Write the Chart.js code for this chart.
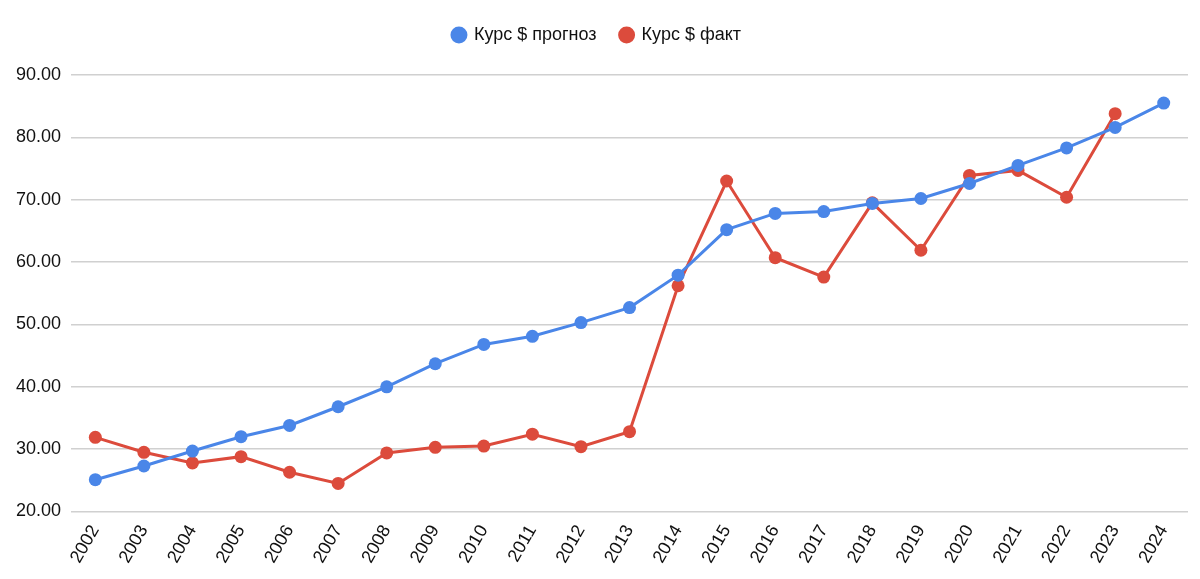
<!DOCTYPE html>
<html>
<head>
<meta charset="utf-8">
<script src="https://cdn.jsdelivr.net/npm/chart.js@4/dist/chart.umd.min.js"></script>
<style>
  html, body { margin: 0; padding: 0; background: #fff; }
  #wrap { width: 1200px; height: 579px; }
</style>
</head>
<body>
<div id="wrap"><canvas id="rateChart"></canvas></div>
<script>
const years = ["2002", "2003", "2004", "2005", "2006", "2007", "2008", "2009", "2010", "2011", "2012",
  "2013", "2014", "2015", "2016", "2017", "2018", "2019", "2020", "2021", "2022", "2023", "2024"];

const forecast = [25.1, 27.3, 29.7, 32.0, 33.8, 36.8, 40.0, 43.7, 46.8, 48.1, 50.3,
  52.7, 57.9, 65.2, 67.8, 68.1, 69.4, 70.2, 72.6, 75.5, 78.3, 81.6, 85.5];

const actual = [31.9, 29.5, 27.8, 28.8, 26.3, 24.5, 29.4, 30.3, 30.5, 32.4, 30.4,
  32.8, 56.2, 73.0, 60.7, 57.6, 69.5, 61.9, 73.9, 74.7, 70.4, 83.8, null];

const yMin = 20;
const yMax = 90;
const yStep = 10;

const blue = "#4a86e8";
const red = "#dc4b3c";
const font = "'Liberation Sans', Arial, sans-serif";

Chart.defaults.font.family = font;
Chart.defaults.color = "#111";

// extra room under the legend, like the original
const legendGap = {
  id: "legendGap",
  beforeInit(chart) {
    const fit = chart.legend.fit;
    chart.legend.fit = function () {
      fit.bind(chart.legend)();
      this.height += 21;
    };
  }
};

const ctx = document.getElementById("rateChart").getContext("2d");
const chart = new Chart(ctx, {
  type: "line",
  data: {
    labels: years,
    datasets: [{
      label: "Курс $ прогноз",
      data: forecast,
      borderColor: blue,
      backgroundColor: blue,
      borderWidth: 3,
      pointRadius: 6.5,
      pointBorderWidth: 0,
      tension: 0
    }, {
      label: "Курс $ факт",
      data: actual,
      borderColor: red,
      backgroundColor: red,
      borderWidth: 3,
      pointRadius: 6.5,
      pointBorderWidth: 0,
      tension: 0
    }]
  },
  options: {
    responsive: true,
    maintainAspectRatio: false,
    animation: false,
    layout: {
      padding: { left: 6, right: 12, top: 2, bottom: 10 }
    },
    plugins: {
      legend: {
        position: "top",
        labels: {
          usePointStyle: true,
          boxWidth: 12,
          boxHeight: 12,
          padding: 24,
          font: { size: 18 },
          color: "#111"
        }
      },
      tooltip: { enabled: false }
    },
    scales: {
      x: {
        offset: true,
        grid: { display: false },
        border: { display: false },
        ticks: {
          autoSkip: false,
          minRotation: 60,
          maxRotation: 60,
          font: { size: 18 },
          color: "#111",
          padding: 2
        }
      },
      y: {
        min: yMin,
        max: yMax,
        border: { display: false },
        grid: { color: "#d0d0d0", lineWidth: 1.5, drawTicks: false },
        ticks: {
          stepSize: yStep,
          padding: 10,
          font: { size: 18 },
          color: "#111",
          callback: v => v.toFixed(2)
        }
      }
    }
  },
  plugins: [legendGap]
});
</script>
</body>
</html>
